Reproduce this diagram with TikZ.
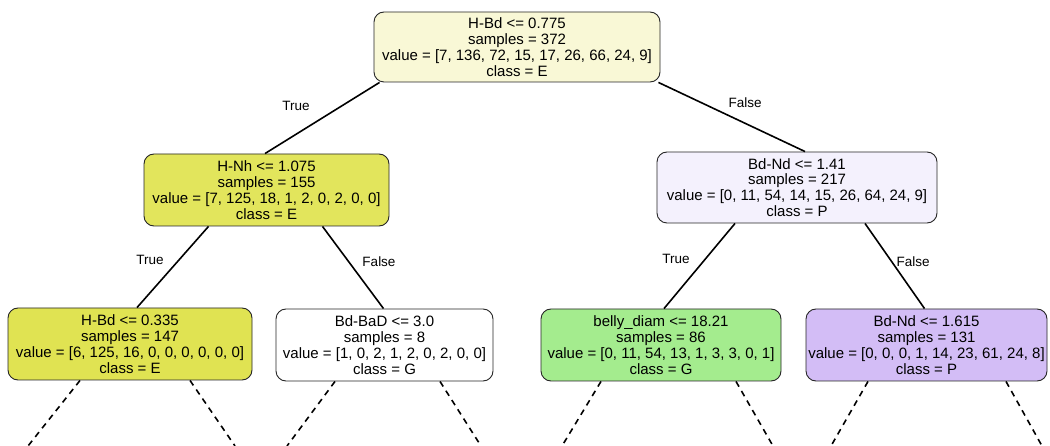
\documentclass[tikz,border=0pt]{standalone}
\usepackage{fontspec}
\setmainfont{Liberation Sans}
\definecolor{cRoot}{HTML}{F9F8D6}
\definecolor{cE}{HTML}{E2E55C}
\definecolor{cEE}{HTML}{E0E352}
\definecolor{cPl}{HTML}{F4F1FD}
\definecolor{cG}{HTML}{A4EC8E}
\definecolor{cP}{HTML}{D3BDF6}
\begin{document}
\begin{tikzpicture}[x=1pt,y=-1pt,
  treebox/.style={draw=black!85,line width=0.9pt,rounded corners=10pt,align=center,
    font=\fontsize{15}{15.8}\selectfont,inner sep=0pt},
  edge/.style={line width=1.6pt},
  dedge/.style={line width=1.6pt,dash pattern=on 6pt off 5pt},
  elabel/.style={font=\fontsize{13.5}{14}\selectfont}]
\useasboundingbox (0,0) rectangle (1050,446);
\fill[white] (0,0) rectangle (1050,446);

\node[treebox,fill=cRoot,minimum width=286pt,minimum height=70pt] (root) at (517,47)
  {H-Bd <= 0.775\\samples = 372\\value = [7, 136, 72, 15, 17, 26, 66, 24, 9]\\class = E};
\node[treebox,fill=cE,minimum width=245pt,minimum height=72pt] (hnh) at (266.5,190)
  {H-Nh <= 1.075\\samples = 155\\value = [7, 125, 18, 1, 2, 0, 2, 0, 0]\\class = E};
\node[treebox,fill=cPl,minimum width=280pt,minimum height=71pt] (bdnd) at (797,187.5)
  {Bd-Nd <= 1.41\\samples = 217\\value = [0, 11, 54, 14, 15, 26, 64, 24, 9]\\class = P};
\node[treebox,fill=cEE,minimum width=244pt,minimum height=72pt] (hbd) at (130,344)
  {H-Bd <= 0.335\\samples = 147\\value = [6, 125, 16, 0, 0, 0, 0, 0, 0]\\class = E};
\node[treebox,fill=white,minimum width=217pt,minimum height=72pt] (bdbad) at (384.5,345)
  {Bd-BaD <= 3.0\\samples = 8\\value = [1, 0, 2, 1, 2, 0, 2, 0, 0]\\class = G};
\node[treebox,fill=cG,minimum width=240pt,minimum height=72pt] (belly) at (661,345)
  {belly\_diam <= 18.21\\samples = 86\\value = [0, 11, 54, 13, 1, 3, 3, 0, 1]\\class = G};
\node[treebox,fill=cP,minimum width=241pt,minimum height=72pt] (bdnd2) at (926.5,345)
  {Bd-Nd <= 1.615\\samples = 131\\value = [0, 0, 0, 1, 14, 23, 61, 24, 8]\\class = P};

\draw[edge] ([xshift=6pt]root.south west) -- ([xshift=-1.5pt]hnh.north);
\draw[edge] ([xshift=-2pt]root.south east) -- ([xshift=8pt]bdnd.north);
\draw[edge] ([xshift=-58pt]hnh.south) -- ([xshift=7pt]hbd.north);
\draw[edge] ([xshift=56pt]hnh.south) -- ([xshift=-1pt]bdbad.north);
\draw[edge] ([xshift=-62pt]bdnd.south) -- ([xshift=3pt]belly.north);
\draw[edge] ([xshift=68pt]bdnd.south) -- ([xshift=-2pt]bdnd2.north);

\node[elabel] (t1) at (296,106) {True};
\node[elabel] (f1) at (745,103) {False};
\node[elabel] (t2) at (150,260) {True};
\node[elabel] (f2) at (379,262) {False};
\node[elabel] (t3) at (676,259) {True};
\node[elabel] (f3) at (913,262) {False};

\coordinate (e1) at (28,446);
\coordinate (e2) at (235,446);
\coordinate (e3) at (287,446);
\coordinate (e4) at (481,446);
\coordinate (e5) at (562,446);
\coordinate (e6) at (773,446);
\coordinate (e7) at (831,446);
\coordinate (e8) at (1042,446);
\draw[dedge] ([xshift=-50pt]hbd.south) -- (e1);
\draw[dedge] ([xshift=60pt]hbd.south) -- (e2);
\draw[dedge] ([xshift=-49.5pt]bdbad.south) -- (e3);
\draw[dedge] ([xshift=55.5pt]bdbad.south) -- (e4);
\draw[dedge] ([xshift=-60pt]belly.south) -- (e5);
\draw[dedge] ([xshift=75pt]belly.south) -- (e6);
\draw[dedge] ([xshift=-58.5pt]bdnd2.south) -- (e7);
\draw[dedge] ([xshift=79.5pt]bdnd2.south) -- (e8);
\end{tikzpicture}
\end{document}
